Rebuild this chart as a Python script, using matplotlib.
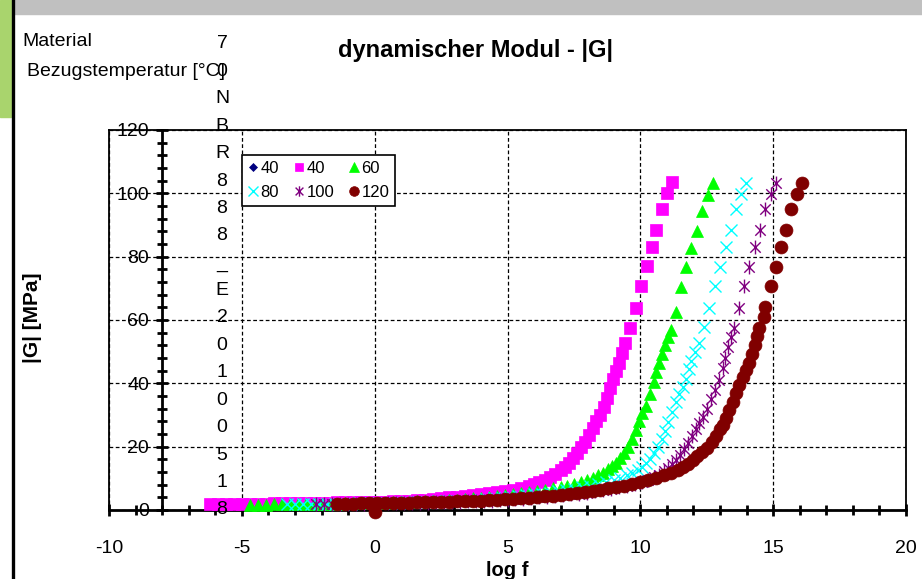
import matplotlib
matplotlib.use("Agg")
import matplotlib.pyplot as plt
from matplotlib.ticker import MultipleLocator
from matplotlib.patches import Rectangle
from matplotlib.lines import Line2D
from matplotlib.path import Path

plt.rcParams['font.family'] = ['Liberation Sans', 'DejaVu Sans']
plt.rcParams['axes.unicode_minus'] = False

# Masterkurven |G| ueber log f, je Bezugstemperatur: (log f, |G| in MPa)
pts_40 = [(-6.2, 1.8), (-5.9, 1.8), (-5.6, 1.8), (-5.3, 1.9), (-5.0, 1.9), (-4.7, 1.9), (-4.4, 2.0),
          (-4.1, 2.0), (-3.8, 2.1), (-3.5, 2.1), (-3.2, 2.1), (-2.9, 2.2), (-2.6, 2.2), (-2.3, 2.3),
          (-2.0, 2.3), (-1.7, 2.3), (-1.4, 2.4), (-1.1, 2.4), (-0.8, 2.4), (-0.5, 2.5), (-0.2, 2.5),
          (0.1, 2.6), (0.4, 2.6), (0.7, 2.7), (1.0, 2.9), (1.3, 3.0), (1.6, 3.2), (1.9, 3.3),
          (2.2, 3.5), (2.5, 3.7), (2.8, 4.0), (3.1, 4.2), (3.4, 4.5), (3.7, 4.8), (4.0, 5.1),
          (4.3, 5.4), (4.6, 5.7), (4.9, 6.0), (5.2, 6.3), (5.5, 6.9), (5.8, 7.6), (6.0, 8.1),
          (6.2, 8.7), (6.4, 9.4), (6.6, 10.3), (6.8, 11.4), (7.0, 12.6), (7.15, 13.6), (7.3, 14.9),
          (7.45, 16.3), (7.6, 17.9), (7.75, 19.8), (7.9, 21.6), (8.05, 23.6), (8.2, 25.9),
          (8.35, 28.0), (8.5, 30.0), (8.62, 32.5), (8.74, 35.5), (8.86, 38.5), (8.98, 41.5),
          (9.1, 44.0), (9.2, 46.4), (9.32, 49.5), (9.44, 52.7), (9.62, 57.5), (9.85, 63.8),
          (10.04, 70.7), (10.26, 77.0), (10.45, 83.0), (10.6, 88.4), (10.8, 95.0), (11.0, 100.0),
          (11.2, 103.6)]

pts_60 = [(-4.7, 1.7), (-4.4, 1.7), (-4.1, 1.7), (-3.8, 1.8), (-3.5, 1.8), (-3.2, 1.8), (-2.9, 1.9),
          (-2.6, 1.9), (-2.3, 1.9), (-2.0, 2.0), (-1.7, 2.0), (-1.4, 2.0), (-1.1, 2.1), (-0.8, 2.1),
          (-0.5, 2.2), (-0.2, 2.2), (0.1, 2.3), (0.4, 2.3), (0.7, 2.4), (1.0, 2.5), (1.3, 2.6),
          (1.6, 2.7), (1.9, 2.8), (2.2, 2.9), (2.5, 3.0), (2.8, 3.2), (3.1, 3.3), (3.4, 3.5),
          (3.7, 3.7), (4.0, 3.9), (4.3, 4.1), (4.6, 4.4), (4.9, 4.7), (5.2, 5.0), (5.5, 5.3),
          (5.8, 5.7), (6.1, 6.0), (6.4, 6.4), (6.7, 6.8), (7.0, 7.2), (7.25, 7.7), (7.5, 8.2),
          (7.75, 8.7), (8.0, 9.4), (8.2, 10.1), (8.4, 10.9), (8.6, 11.8), (8.8, 12.8), (8.95, 13.8),
          (9.1, 15.0), (9.25, 16.4), (9.4, 18.0), (9.55, 19.8), (9.7, 22.5), (9.83, 25.2),
          (9.96, 28.0), (10.08, 30.5), (10.2, 33.0), (10.35, 36.5), (10.5, 40.5), (10.6, 43.5),
          (10.7, 46.4), (10.82, 49.2), (10.94, 52.0), (11.05, 54.5), (11.17, 56.8), (11.35, 62.5),
          (11.54, 70.4), (11.73, 76.7), (11.92, 82.7), (12.14, 88.0), (12.34, 94.4), (12.56, 99.5),
          (12.74, 103.2)]

pts_80 = [(-3.3, 1.8), (-3.0, 1.8), (-2.7, 1.8), (-2.4, 1.9), (-2.1, 1.9), (-1.8, 1.9), (-1.5, 2.0),
          (-1.2, 2.0), (-0.9, 2.0), (-0.6, 2.1), (-0.3, 2.1), (0.0, 2.2), (0.3, 2.2), (0.6, 2.3),
          (0.9, 2.3), (1.2, 2.4), (1.5, 2.5), (1.8, 2.5), (2.1, 2.6), (2.4, 2.7), (2.7, 2.8),
          (3.0, 2.9), (3.3, 3.0), (3.6, 3.2), (3.9, 3.3), (4.2, 3.5), (4.5, 3.7), (4.8, 3.9),
          (5.1, 4.1), (5.4, 4.3), (5.7, 4.6), (6.0, 4.9), (6.3, 5.2), (6.6, 5.5), (6.9, 5.9),
          (7.2, 6.3), (7.5, 6.7), (7.8, 7.2), (8.1, 7.6), (8.4, 8.1), (8.7, 8.7), (9.0, 9.4),
          (9.25, 10.1), (9.5, 10.9), (9.7, 11.6), (9.9, 12.6), (10.05, 13.6), (10.2, 14.8),
          (10.35, 16.2), (10.5, 18.0), (10.65, 20.0), (10.8, 22.5), (10.92, 25.0), (11.05, 27.8),
          (11.2, 31.0), (11.33, 34.0), (11.47, 36.5), (11.6, 39.0), (11.73, 41.5), (11.85, 44.5),
          (11.92, 47.0), (12.07, 50.0), (12.22, 52.7), (12.4, 57.8), (12.6, 63.8), (12.82, 70.7),
          (13.0, 76.7), (13.23, 83.0), (13.4, 88.4), (13.6, 95.0), (13.8, 99.8), (13.98, 103.2)]

pts_100 = [(-2.2, 1.8), (-1.9, 1.8), (-1.6, 1.8), (-1.3, 1.9), (-1.0, 1.9), (-0.7, 1.9), (-0.4, 2.0),
           (-0.1, 2.0), (0.2, 2.0), (0.5, 2.1), (0.8, 2.1), (1.1, 2.2), (1.4, 2.2), (1.7, 2.3),
           (2.0, 2.3), (2.3, 2.4), (2.6, 2.5), (2.9, 2.5), (3.2, 2.6), (3.5, 2.7), (3.8, 2.8),
           (4.1, 2.9), (4.4, 3.0), (4.7, 3.1), (5.0, 3.3), (5.3, 3.4), (5.6, 3.6), (5.9, 3.8),
           (6.2, 4.0), (6.5, 4.2), (6.8, 4.4), (7.1, 4.6), (7.4, 4.9), (7.7, 5.2), (8.0, 5.5),
           (8.3, 5.9), (8.6, 6.3), (8.9, 6.7), (9.2, 7.2), (9.5, 7.7), (9.8, 8.3), (10.05, 8.9),
           (10.3, 9.6), (10.5, 10.3), (10.7, 11.2), (10.9, 12.2), (11.05, 13.2), (11.2, 14.5),
           (11.35, 15.9), (11.5, 17.4), (11.65, 19.2), (11.8, 21.2), (11.95, 23.3), (12.1, 25.6),
           (12.22, 27.5), (12.35, 29.5), (12.5, 32.0), (12.65, 35.0), (12.8, 38.0), (12.95, 41.0),
           (13.1, 45.0), (13.2, 48.0), (13.3, 51.5), (13.42, 54.5), (13.53, 57.5), (13.7, 63.8),
           (13.9, 70.7), (14.1, 76.7), (14.32, 83.0), (14.5, 88.4), (14.7, 95.0), (14.92, 99.8),
           (15.1, 103.2)]

pts_120 = [(-1.4, 2.0), (-1.1, 2.0), (-0.8, 2.0), (-0.5, 2.1), (-0.2, 2.1), (0.0, -0.5), (0.1, 2.1),
           (0.4, 2.2), (0.7, 2.2), (1.0, 2.3), (1.3, 2.3), (1.6, 2.4), (1.9, 2.4), (2.2, 2.5),
           (2.5, 2.6), (2.8, 2.6), (3.1, 2.7), (3.4, 2.8), (3.7, 2.9), (4.0, 3.0), (4.3, 3.1),
           (4.6, 3.2), (4.9, 3.4), (5.2, 3.5), (5.5, 3.7), (5.8, 3.9), (6.1, 4.1), (6.4, 4.3),
           (6.7, 4.5), (7.0, 4.8), (7.3, 5.1), (7.6, 5.4), (7.9, 5.7), (8.2, 6.0), (8.5, 6.4),
           (8.8, 6.8), (9.1, 7.2), (9.4, 7.7), (9.7, 8.2), (10.0, 8.7), (10.3, 9.4), (10.6, 10.1),
           (10.9, 11.0), (11.15, 11.8), (11.4, 12.7), (11.6, 13.6), (11.8, 14.6), (12.0, 15.8),
           (12.15, 16.9), (12.33, 18.2), (12.5, 19.6), (12.7, 21.5), (12.85, 23.5), (13.0, 25.5),
           (13.1, 27.0), (13.22, 29.2), (13.35, 31.6), (13.48, 34.2), (13.6, 37.0), (13.72, 39.5),
           (13.85, 42.0), (13.97, 44.2), (14.1, 46.4), (14.2, 49.2), (14.3, 52.0), (14.4, 55.0),
           (14.47, 57.5), (14.66, 61.0), (14.7, 64.0), (14.92, 70.7), (15.1, 76.7), (15.3, 83.0),
           (15.5, 88.4), (15.68, 95.0), (15.9, 99.8), (16.1, 103.2)]

material_code = "70NBR888_E20100518"

# Excel-Stern: X mit senkrechtem Strich
star = Path([(0, -1), (0, 1), (-0.75, -0.75), (0.75, 0.75), (-0.75, 0.75), (0.75, -0.75)],
            [Path.MOVETO, Path.LINETO, Path.MOVETO, Path.LINETO, Path.MOVETO, Path.LINETO])

fig = plt.figure(figsize=(9.22, 5.79), dpi=100)

# Rahmen / Deko links oben
fig.patches.append(Rectangle((12 / 922, 1 - 14 / 579), 1, 14 / 579, transform=fig.transFigure,
                             color='#c0c0c0', zorder=0))
fig.patches.append(Rectangle((0, 1 - 117 / 579), 11 / 922, 117 / 579, transform=fig.transFigure,
                             color='#a9d46d', zorder=0))
fig.lines.append(Line2D([12.5 / 922, 12.5 / 922], [0, 1], transform=fig.transFigure,
                        color='black', lw=2.4))

ax = fig.add_axes([109 / 922, 69 / 579, 797 / 922, 380 / 579])

series = [
    (pts_40, 'D', 5, '#000080', '40'),
    (pts_40, 's', 8.3, '#ff00ff', '40'),
    (pts_60, '^', 8.8, '#00ff00', '60'),
    (pts_80, 'x', 9, '#00ffff', '80'),
    (pts_100, star, 10, '#800080', '100'),
    (pts_120, 'o', 9.3, '#800000', '120'),
]
handles = []
for pts, m, ms, c, lab in series:
    x = [p[0] for p in pts]
    y = [p[1] for p in pts]
    if m == 'x' or m is star:
        h, = ax.plot(x, y, linestyle='none', marker=m, ms=ms, color=c, mew=1.0,
                     label=lab, clip_on=False, zorder=3)
    else:
        h, = ax.plot(x, y, linestyle='none', marker=m, ms=ms, color=c, mec=c, mew=0.5,
                     label=lab, clip_on=False, zorder=3)
    handles.append(h)

ax.set_xlim(-10, 20)
ax.set_ylim(0, 120)
ax.xaxis.set_major_locator(MultipleLocator(5))
ax.xaxis.set_minor_locator(MultipleLocator(1))
ax.yaxis.set_major_locator(MultipleLocator(20))
ax.yaxis.set_minor_locator(MultipleLocator(4))

ax.spines['left'].set_position(('data', -8))
ax.spines['left'].set_linewidth(2)
ax.spines['bottom'].set_linewidth(2)
ax.spines['top'].set_linewidth(1.3)
ax.spines['right'].set_linewidth(1.3)
ax.axvline(-10, color='black', lw=1.3, clip_on=False, zorder=4)

ax.grid(True, which='major', color='black', linestyle=(0, (3, 2)), lw=0.9)
ax.set_axisbelow(True)

ax.tick_params(axis='both', which='major', direction='inout', length=9, width=2, labelsize=14)
ax.tick_params(axis='both', which='minor', direction='inout', length=7, width=2)
ax.tick_params(axis='x', which='major', pad=17)
ax.tick_params(axis='y', which='major', pad=5)

ax.set_xlabel('log f', fontsize=14.5, fontweight='bold', labelpad=3)
fig.text(33 / 922, 1 - 318 / 579, '|G| [MPa]', rotation=90, ha='center', va='center',
         fontsize=15, fontweight='bold')
fig.text(475 / 922, 1 - 50 / 579, 'dynamischer Modul - |G|', ha='center', va='center',
         fontsize=17, fontweight='bold')

fig.text(22 / 922, 1 - 42 / 579, 'Material', ha='left', va='center', fontsize=14)
fig.text(27 / 922, 1 - 72 / 579, 'Bezugstemperatur [°C]', ha='left', va='center', fontsize=14)
for i, ch in enumerate(material_code):
    fig.text(222 / 922, 1 - (44 + 27.4 * i) / 579, ch, ha='center', va='center', fontsize=14)

# Legende zeilenweise wie in Excel
order = [0, 3, 1, 4, 2, 5]
leg = ax.legend([handles[i] for i in order], [series[i][4] for i in order],
                loc='upper left', bbox_to_anchor=(242 / 922, 1 - 155 / 579),
                bbox_transform=fig.transFigure, ncol=3, fontsize=12, frameon=True,
                fancybox=False, edgecolor='black', framealpha=1, borderpad=0.35,
                handlelength=0.6, handletextpad=0.15, columnspacing=0.9, labelspacing=0.55,
                markerscale=0.75, borderaxespad=0)
leg.get_frame().set_linewidth(1.2)

fig.savefig('out.png', dpi=100)
